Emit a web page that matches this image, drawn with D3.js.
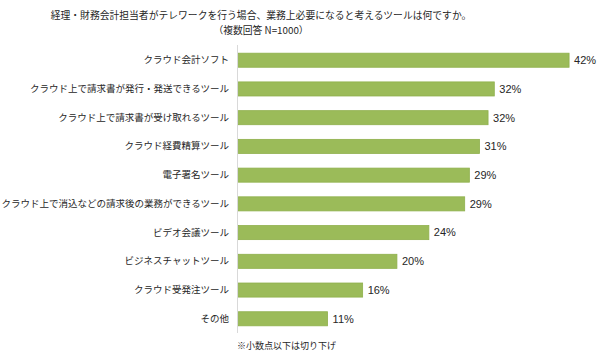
<!DOCTYPE html>
<html>
<head>
<meta charset="utf-8">
<script src="https://cdn.jsdelivr.net/npm/d3@7"></script>
<style>
  html, body { margin: 0; padding: 0; background: #fff; }
  svg { display: block; }
</style>
</head>
<body>
<script>
const categories = [
  "クラウド会計ソフト",
  "クラウド上で請求書が発行・発送できるツール",
  "クラウド上で請求書が受け取れるツール",
  "クラウド経費精算ツール",
  "電子署名ツール",
  "クラウド上で消込などの請求後の業務ができるツール",
  "ビデオ会議ツール",
  "ビジネスチャットツール",
  "クラウド受発注ツール",
  "その他"
];
const values = [42.5, 32.9, 32.1, 31.0, 29.7, 29.1, 24.5, 20.4, 16.0, 11.5];
const titleLines = [
  "経理・財務会計担当者がテレワークを行う場合、業務上必要になると考えるツールは何ですか。",
  "（複数回答 N=1000）"
];
const footnote = "※小数点以下は切り下げ";

const W = 600, H = 360;
const jp = "'Noto Sans CJK JP', 'Noto Sans', sans-serif";
const svg = d3.select("body").append("svg").attr("width", W).attr("height", H);

const x = d3.scaleLinear().domain([0, 50]).range([238, 238 + 7.79 * 50]);
const y = d3.scaleBand().domain(categories).range([46, 333]).paddingInner(0.51).paddingOuter(0.25);

// title
svg.append("g").selectAll("text").data(titleLines).join("text")
  .attr("x", 261).attr("y", (d, i) => 19 + i * 15)
  .attr("text-anchor", "middle")
  .attr("font-family", jp).attr("font-size", 9.8)
  .attr("fill", "#262626")
  .text(d => d);

// axis line
svg.append("line")
  .attr("x1", x(0) - 0.5).attr("x2", x(0) - 0.5)
  .attr("y1", 45).attr("y2", 333)
  .attr("stroke", "#d9d9d9").attr("stroke-width", 1);

// bars
svg.append("g").selectAll("rect").data(values).join("rect")
  .attr("x", x(0) + 0.5)
  .attr("y", (d, i) => y(categories[i]))
  .attr("width", d => x(d) - x(0) - 0.5)
  .attr("height", y.bandwidth())
  .attr("fill", "#9bbb59")
  .attr("stroke", "#8fb04c").attr("stroke-width", 0.8);

// category labels
const yAxis = d3.axisLeft(y).tickSize(0).tickPadding(9);
const ga = svg.append("g").attr("transform", `translate(${x(0)},0)`).call(yAxis);
ga.select(".domain").remove();
ga.selectAll("text")
  .attr("font-family", jp).attr("font-size", 9.5).attr("fill", "#262626");

// value labels
svg.append("g").selectAll("text").data(values).join("text")
  .attr("x", d => x(d) + 5)
  .attr("y", (d, i) => y(categories[i]) + y.bandwidth() / 2)
  .attr("dy", "0.35em")
  .attr("font-family", "'Liberation Sans', Arial, sans-serif")
  .attr("font-size", 11).attr("fill", "#262626")
  .text(d => Math.floor(d) + "%");

// footnote
svg.append("text")
  .attr("x", 237).attr("y", 349)
  .attr("font-family", jp).attr("font-size", 9).attr("fill", "#262626")
  .text(footnote);
</script>
</body>
</html>
